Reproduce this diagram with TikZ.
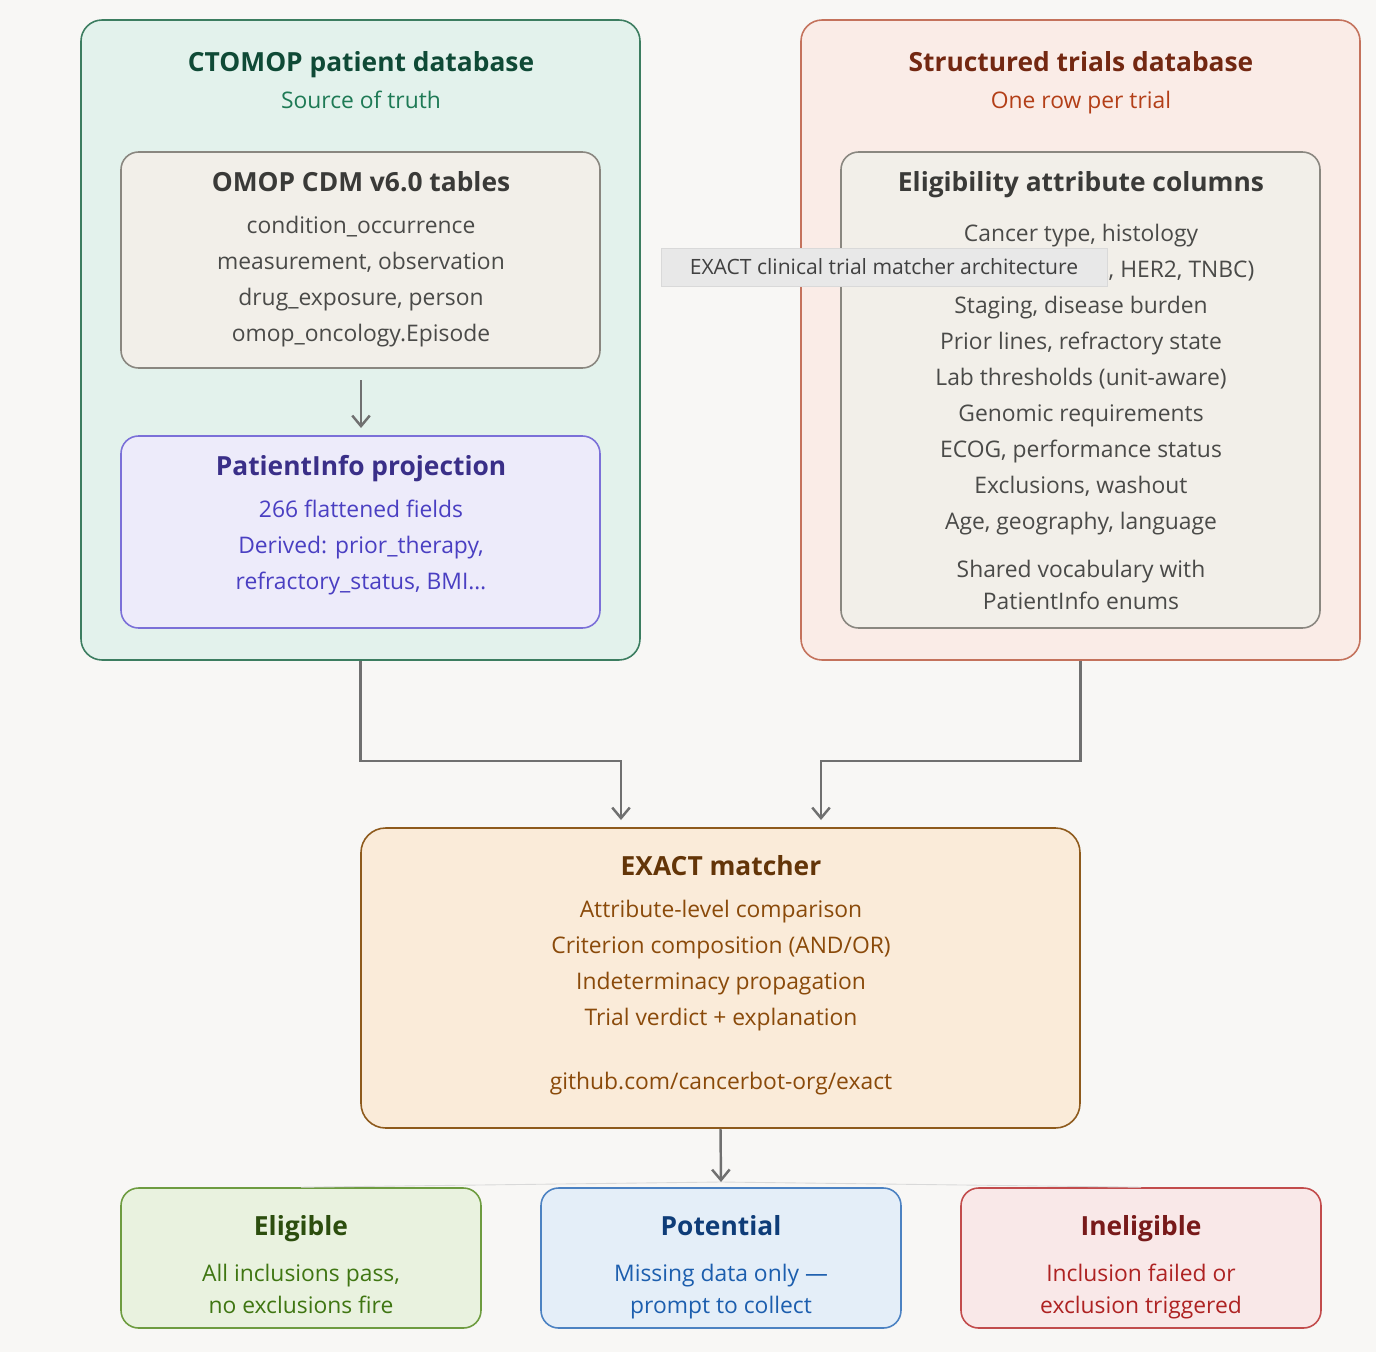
\documentclass[tikz,border=0pt]{standalone}
\usepackage{fontspec}
\setmainfont{Open Sans}
\usetikzlibrary{arrows.meta}
\definecolor{pagebg}{HTML}{F8F7F5}
\definecolor{gfill}{HTML}{E3F2EC}\definecolor{gdraw}{HTML}{3C7D60}
\definecolor{gtitle}{HTML}{0F4A36}\definecolor{gsub}{HTML}{1E7A55}
\definecolor{tfill}{HTML}{F2EFE9}\definecolor{tdraw}{HTML}{8A8780}
\definecolor{ttext}{HTML}{4A4A48}\definecolor{ttitle}{HTML}{3A3A38}
\definecolor{pfill}{HTML}{EDEBFA}\definecolor{pdraw}{HTML}{7B70D8}
\definecolor{ptitle}{HTML}{3A2F88}\definecolor{ptext}{HTML}{4A3FC2}
\definecolor{rfill}{HTML}{FAECE7}\definecolor{rdraw}{HTML}{C4725C}
\definecolor{rtitle}{HTML}{732812}\definecolor{rsub}{HTML}{B33F18}
\definecolor{mfill}{HTML}{FAEBD9}\definecolor{mdraw}{HTML}{8E5A1C}
\definecolor{mtitle}{HTML}{633508}\definecolor{mtext}{HTML}{8A4A0A}
\definecolor{efill}{HTML}{E9F2DF}\definecolor{edraw}{HTML}{6E9C40}
\definecolor{etitle}{HTML}{2C4E0E}\definecolor{etext}{HTML}{3F7612}
\definecolor{ofill}{HTML}{E4EEF8}\definecolor{odraw}{HTML}{4C82C2}
\definecolor{otitle}{HTML}{0E3C78}\definecolor{otext}{HTML}{1C5EAE}
\definecolor{ifill}{HTML}{F9E8E8}\definecolor{idraw}{HTML}{C24C4C}
\definecolor{ititle}{HTML}{781A1A}\definecolor{itext}{HTML}{AE2222}
\definecolor{linec}{HTML}{707070}
\begin{document}
\begin{tikzpicture}[x=0.02cm,y=-0.02cm,%
% common options for boxes:
box/.style = {rounded corners=20\pgflinewidth, line width=0.9pt, inner sep=0},
% common options for texts:
title/.style = {font=\fontsize{15}{18}\selectfont\bfseries, anchor=center,
            text height=1.6ex, text depth=.4ex},
line/.style = {font=\fontsize{13}{16}\selectfont, anchor=center,
            text height=1.6ex, text depth=.4ex},
arr/.style = {draw=linec, line width=1.4pt, -{Straight Barb[length=6pt,width=10pt]}}]
\fill[pagebg] (0,0) rectangle (1376,1352);
% patient side
\draw[box, fill=gfill, draw=gdraw, rounded corners=12pt] (81,20) rectangle (640,660);
\node[box, minimum width=559*0.02cm, minimum height=640*0.02cm] (lout) at (360.5,340) {};
\node[title, text=gtitle] (L0) at (361,66) {CTOMOP patient database};
\node[line, text=gsub] (L1) at (361,103) {Source of truth};
\draw[box, fill=tfill, draw=tdraw, rounded corners=10pt] (121,152) rectangle (600,368);
\node[box, minimum width=479*0.02cm, minimum height=216*0.02cm] (omop) at (360.5,260) {};
\node[title, text=ttitle] (O0) at (361,186) {OMOP CDM v6.0 tables};
\node[line, text=ttext] (O1) at (361,228) {condition\_occurrence};
\node[line, text=ttext] (O2) at (361,264) {measurement, observation};
\node[line, text=ttext] (O3) at (361,300) {drug\_exposure, person};
\node[line, text=ttext] (O4) at (361,336) {omop\_oncology.Episode};
\draw[box, fill=pfill, draw=pdraw, rounded corners=10pt] (121,436) rectangle (600,628);
\node[box, minimum width=479*0.02cm, minimum height=192*0.02cm] (pinfo) at (360.5,532) {};
\node[title, text=ptitle] (P0) at (361,470) {PatientInfo projection};
\node[line, text=ptext] (P1) at (361,512) {266 flattened fields};
\node[line, text=ptext] (P2) at (361,548) {Derived: prior\_therapy,};
\node[line, text=ptext] (P3) at (361,584) {refractory\_status, BMI…};
\coordinate (oa) at (361,380);
\coordinate (pa) at (361,428);
\draw[arr] (oa) -- (pa);
% trial side
\draw[box, fill=rfill, draw=rdraw, rounded corners=12pt] (801,20) rectangle (1360,660);
\node[box, minimum width=559*0.02cm, minimum height=640*0.02cm] (rout) at (1080.5,340) {};
\node[title, text=rtitle] (R0) at (1081,66) {Structured trials database};
\node[line, text=rsub] (R1) at (1081,103) {One row per trial};
\draw[box, fill=tfill, draw=tdraw, rounded corners=10pt] (841,152) rectangle (1320,628);
\node[title, text=ttitle] (C0) at (1081,186) {Eligibility attribute columns};
\node[line, text=ttext] (C1) at (1081,236) {Cancer type, histology};
\node[line, text=ttext] (C2) at (1081,272) {Biomarkers (ER, PR, HER2, TNBC)};
\node[line, text=ttext] (C3) at (1081,308) {Staging, disease burden};
\node[line, text=ttext] (C4) at (1081,344) {Prior lines, refractory state};
\node[line, text=ttext] (C5) at (1081,380) {Lab thresholds (unit-aware)};
\node[line, text=ttext] (C6) at (1081,416) {Genomic requirements};
\node[line, text=ttext] (C7) at (1081,452) {ECOG, performance status};
\node[line, text=ttext] (C8) at (1081,488) {Exclusions, washout};
\node[line, text=ttext] (C9) at (1081,524) {Age, geography, language};
\node[line, text=ttext] (C10) at (1081,572) {Shared vocabulary with};
\node[line, text=ttext] (C11) at (1081,604) {PatientInfo enums};
% tooltip
\node[draw=black!15, fill=black!9, text=black!75, font=\fontsize{12}{14}\selectfont,
      minimum width=446*0.02cm, minimum height=38*0.02cm, inner sep=0] (tip) at (884,267)
      {EXACT clinical trial matcher architecture};
% matcher
\draw[box, fill=mfill, draw=mdraw, rounded corners=14pt] (361,828) rectangle (1080,1128);
\node[box, minimum width=719*0.02cm, minimum height=300*0.02cm] (match) at (720.5,978) {};
\node[title, text=mtitle] (M0) at (721,870) {EXACT matcher};
\node[line, text=mtext] (M1) at (721,912) {Attribute-level comparison};
\node[line, text=mtext] (M2) at (721,948) {Criterion composition (AND/OR)};
\node[line, text=mtext] (M3) at (721,984) {Indeterminacy propagation};
\node[line, text=mtext] (M4) at (721,1020) {Trial verdict + explanation};
\node[line, text=mtext] (M5) at (721,1084) {github.com/cancerbot-org/exact};
\coordinate (ml) at (621,820);
\coordinate (mr) at (821,820);
\draw[arr, rounded corners=0] (lout.south) -- ++(0,100) -| (ml);
\draw[arr, rounded corners=0] (rout.south) -- ++(0,100) -| (mr);
% outcomes
\draw[box, fill=efill, draw=edraw, rounded corners=10pt] (121,1188) rectangle (481,1328);
\node[box, minimum width=360*0.02cm, minimum height=140*0.02cm] (elig) at (301,1258) {};
\node[title, text=etitle] (E0) at (301,1230) {Eligible};
\node[line, text=etext] (E1) at (301,1276) {All inclusions pass,};
\node[line, text=etext] (E2) at (301,1308) {no exclusions fire};
\draw[box, fill=ofill, draw=odraw, rounded corners=10pt] (541,1188) rectangle (901,1328);
\node[box, minimum width=360*0.02cm, minimum height=140*0.02cm] (pot) at (721,1258) {};
\node[title, text=otitle] (T0) at (721,1230) {Potential};
\node[line, text=otext] (T1) at (721,1276) {Missing data only —};
\node[line, text=otext] (T2) at (721,1308) {prompt to collect};
\draw[box, fill=ifill, draw=idraw, rounded corners=10pt] (961,1188) rectangle (1321,1328);
\node[box, minimum width=360*0.02cm, minimum height=140*0.02cm] (inel) at (1141,1258) {};
\node[title, text=ititle] (I0) at (1141,1230) {Ineligible};
\node[line, text=itext] (I1) at (1141,1276) {Inclusion failed or};
\node[line, text=itext] (I2) at (1141,1308) {exclusion triggered};
\coordinate (fan) at (721,1182);
\draw[black!15, line width=0.5pt] (fan) -- (elig.north);
\draw[black!15, line width=0.5pt] (fan) -- (inel.north);
\draw[arr] (match.south) -- (fan);
\end{tikzpicture}
\end{document}
